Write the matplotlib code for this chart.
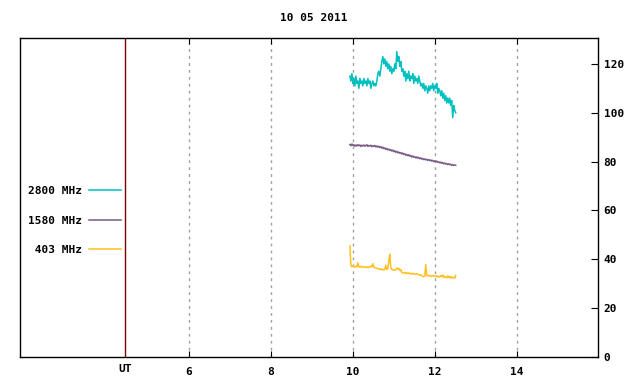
import numpy as np
import matplotlib
matplotlib.use("Agg")
import matplotlib.pyplot as plt

# sample times (UT hours), one sample per pixel column of the original plot
t_start, t_end = 9.93, 12.51

flux_2800 = [
    115, 113, 116, 112, 114, 111, 115, 112, 113, 110,
    114, 112, 113, 111, 114, 112, 113, 111, 114, 112,
    113, 110, 112, 113, 111, 112, 111, 113, 116, 117,
    115, 118, 121, 123, 120, 122, 119, 121, 118, 120,
    117, 119, 116, 118, 117, 120, 118, 125, 121, 123,
    119, 121, 117, 118, 115, 117, 113, 116, 114, 117,
    113, 115, 114, 116, 112, 115, 113, 114, 112, 115,
    113, 111, 112, 110, 112, 109, 111, 110, 108, 111,
    109, 111, 110, 112, 109, 111, 110, 112, 108, 110,
    109, 107, 109, 106, 108, 105, 107, 104, 106, 104,
    106, 103, 105, 98, 103, 101, 100,
]
flux_1580 = [
    87.0, 86.5, 87.2, 86.6, 86.9, 86.3, 86.8, 86.4, 86.9, 86.5,
    86.8, 86.2, 86.7, 86.4, 86.8, 86.3, 86.6, 86.9, 86.2, 86.6,
    86.4, 86.7, 86.1, 86.5, 86.2, 86.6, 86.0, 86.4, 85.9, 86.3,
    85.8, 86.1, 85.5, 85.9, 85.3, 85.6, 85.0, 85.4, 84.8, 85.1,
    84.6, 84.9, 84.3, 84.7, 84.1, 84.4, 83.8, 84.2, 83.6, 83.9,
    83.4, 83.7, 83.1, 83.5, 82.9, 83.2, 82.6, 82.9, 82.4, 82.8,
    82.2, 82.5, 81.9, 82.3, 81.8, 82.0, 81.5, 81.9, 81.4, 81.7,
    81.2, 81.5, 81.0, 81.3, 80.8, 81.1, 80.7, 81.0, 80.5, 80.8,
    80.4, 80.7, 80.2, 80.5, 80.0, 80.3, 79.9, 80.2, 79.7, 79.9,
    79.5, 79.8, 79.3, 79.6, 79.1, 79.4, 79.0, 79.2, 78.8, 79.1,
    78.7, 78.9, 78.5, 78.8, 78.4, 78.6, 78.5,
]
flux_403 = [
    45.5, 37.5, 37.0, 37.3, 37.0, 36.8, 37.2, 36.9, 38.5, 37.0,
    36.8, 37.1, 36.9, 36.8, 37.0, 36.7, 36.9, 36.6, 36.8, 36.7,
    36.9, 37.2, 36.8, 38.2, 36.9, 36.6, 36.4, 36.2, 36.3, 36.0,
    35.8, 36.1, 35.7, 35.9, 35.6, 36.0, 37.6, 35.8, 36.2, 39.5,
    42.0, 36.5, 35.8, 35.6, 35.8, 35.5, 35.7, 36.5, 36.0, 36.3,
    35.4, 35.8, 34.6, 34.5, 34.3, 34.6, 34.2, 34.5, 34.1, 34.4,
    34.2, 34.0, 34.3, 33.9, 34.2, 34.0, 33.8, 34.1, 33.9, 33.6,
    33.5, 33.7, 33.2, 33.0, 32.9, 33.1, 37.8, 33.5, 33.2, 33.4,
    33.1, 33.3, 33.0, 33.4, 33.1, 33.2, 32.9, 33.3, 32.7, 33.0,
    32.8, 33.3, 32.9, 33.6, 32.5, 33.0, 32.7, 32.4, 33.2, 32.6,
    33.0, 32.3, 32.8, 32.4, 32.6, 32.2, 33.4,
]

series = [
    ("2800 MHz", flux_2800, "#00c0c0"),
    ("1580 MHz", flux_1580, "#7a5a85"),
    (" 403 MHz", flux_403, "#ffc020"),
]

title = "10 05 2011"
xticks = [6, 8, 10, 12, 14]
yticks = [0, 20, 40, 60, 80, 100, 120]
ut_pos = 4.44

plt.rcParams['font.family'] = ['DejaVu Sans Mono']
plt.rcParams['font.weight'] = 'bold'
plt.rcParams['font.size'] = 8

fig = plt.figure(figsize=(6.4, 3.84), dpi=100)
ax = fig.add_axes([20 / 640, 27 / 384, 578 / 640, 319 / 384])

t = np.linspace(t_start, t_end, len(flux_2800))
for label, vals, col in series:
    ax.plot(t, vals, color=col, lw=1.1, label=label)

ax.axvline(ut_pos, color='#800000', lw=1)

ax.set_xlim(1.885, 15.98)
ax.set_ylim(0, 130.6)
ax.set_xticks(xticks)
ax.set_yticks(yticks)
ax.grid(axis='x', color='#a0a0a0', linestyle=(0, (2, 3)), lw=1)

ax.tick_params(axis='x', direction='in', top=True, bottom=True, length=4, pad=7)
ax.tick_params(axis='y', direction='in', left=False, right=True, labelleft=False,
               labelright=True, length=5, pad=4)
for s in ax.spines.values():
    s.set_linewidth(1)

ax.text(ut_pos, -0.037, "UT", ha='center', va='center',
        transform=ax.get_xaxis_transform())

fig.text(0.49, 1 - 18 / 384, title, ha='center', va='center')

ax.legend(loc='upper right', bbox_to_anchor=(0.175, 0.535), frameon=False,
          markerfirst=False, handlelength=2.9, handletextpad=0.6,
          labelspacing=1.75, borderpad=0, borderaxespad=0)

fig.savefig("out.png", dpi=100)
